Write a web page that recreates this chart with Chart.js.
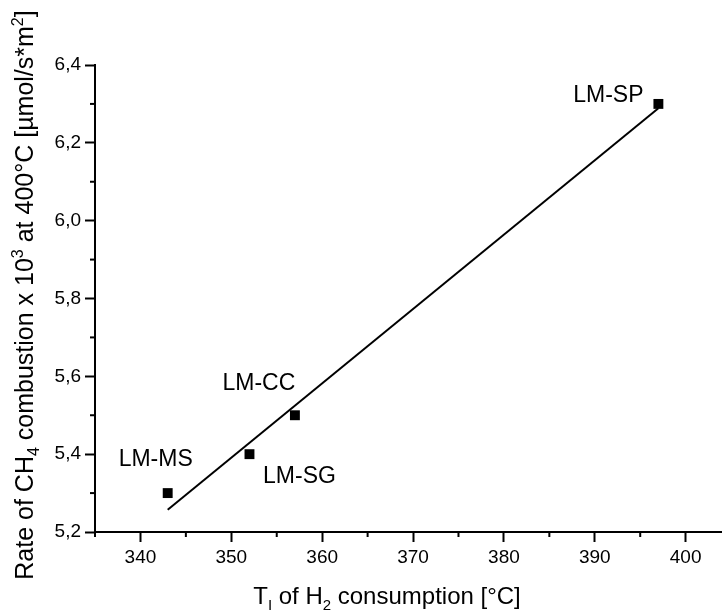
<!DOCTYPE html>
<html>
<head>
<meta charset="utf-8">
<script src="https://cdn.jsdelivr.net/npm/chart.js@4"></script>
<style>
  html, body { margin: 0; padding: 0; background: #fff; }
  #wrap { width: 722px; height: 613px; }
</style>
</head>
<body>
<div id="wrap"><canvas id="chart" width="722" height="613"></canvas></div>
<script>
// Data
const sampleNames = ['LM-MS', 'LM-SG', 'LM-CC', 'LM-SP'];
const tempValues = [343, 352, 357, 397];
const rateValues = [5.3, 5.4, 5.5, 6.3];
const fitX = [343, 397];
const fitY = [5.257, 6.289];
const xTicks = [340, 350, 360, 370, 380, 390, 400];
const yTicks = [5.2, 5.4, 5.6, 5.8, 6.0, 6.2, 6.4];

// label offsets from each point (px)
const labelOffsets = [[-12, -33], [50, 22], [-36, -32], [-50, -8]];

const FONT = '"Liberation Sans", Arial, sans-serif';

// draws minor ticks, point labels and the axis titles (with sub/superscripts)
const extras = {
  id: 'extras',
  afterDraw(chart) {
    const ctx = chart.ctx;
    const xs = chart.scales.x, ys = chart.scales.y;
    ctx.save();
    ctx.strokeStyle = '#000';
    ctx.lineWidth = 2;
    // minor ticks
    for (let v = 335; v <= 404; v += 5) {
      if (v % 10 === 0) continue;
      const px = xs.getPixelForValue(v);
      ctx.beginPath(); ctx.moveTo(px, ys.bottom); ctx.lineTo(px, ys.bottom + 5); ctx.stroke();
    }
    for (let i = 0; i < yTicks.length - 1; i++) {
      const py = ys.getPixelForValue((yTicks[i] + yTicks[i + 1]) / 2);
      ctx.beginPath(); ctx.moveTo(xs.left, py); ctx.lineTo(xs.left - 5, py); ctx.stroke();
    }

    // point labels
    ctx.fillStyle = '#000';
    ctx.font = '23px ' + FONT;
    ctx.textAlign = 'center';
    ctx.textBaseline = 'middle';
    sampleNames.forEach((name, i) => {
      const px = xs.getPixelForValue(tempValues[i]);
      const py = ys.getPixelForValue(rateValues[i]);
      ctx.fillText(name, px + labelOffsets[i][0], py + labelOffsets[i][1]);
    });

    // rich text helper: parts = [text, shift] shift 0 normal, 1 sup, -1 sub
    const drawRich = (parts, cx, cy, size) => {
      const big = size + 'px ' + FONT, small = Math.round(size * 0.62) + 'px ' + FONT;
      let total = 0;
      parts.forEach(p => { ctx.font = p[1] ? small : big; total += ctx.measureText(p[0]).width; });
      let x = cx - total / 2;
      ctx.textAlign = 'left';
      ctx.textBaseline = 'alphabetic';
      parts.forEach(p => {
        ctx.font = p[1] ? small : big;
        const dy = p[1] === 1 ? -size * 0.42 : (p[1] === -1 ? size * 0.25 : 0);
        ctx.fillText(p[0], x, cy + dy);
        x += ctx.measureText(p[0]).width;
      });
    };

    drawRich([['T', 0], ['I', -1], [' of H', 0], ['2', -1], [' consumption [\u00B0C]', 0]],
      387, 604, 24);

    ctx.translate(33, 295);
    ctx.rotate(-Math.PI / 2);
    drawRich([['Rate of CH', 0], ['4', -1], [' combustion x 10', 0], ['3', 1],
      [' at 400\u00B0C [\u00B5mol/s*m', 0], ['2', 1], [']', 0]], 0, 0, 25);
    ctx.restore();
  }
};

new Chart(document.getElementById('chart').getContext('2d'), {
  type: 'scatter',
  data: {
    datasets: [{
      label: 'samples',
      data: tempValues.map((t, i) => ({ x: t, y: rateValues[i] })),
      pointStyle: 'rect',
      pointRadius: 7,
      pointBorderWidth: 0,
      backgroundColor: '#000',
      borderColor: '#000'
    }, {
      type: 'line',
      label: 'fit',
      data: fitX.map((t, i) => ({ x: t, y: fitY[i] })),
      borderColor: '#000',
      borderWidth: 2,
      pointRadius: 0,
      fill: false
    }]
  },
  options: {
    responsive: false,
    animation: false,
    layout: { autoPadding: false, padding: { top: 65, right: 0, left: 0, bottom: 0 } },
    plugins: { legend: { display: false }, tooltip: { enabled: false } },
    scales: {
      x: {
        type: 'linear',
        min: 335,
        max: 404,
        afterBuildTicks: s => { s.ticks = xTicks.map(v => ({ value: v })); },
        afterFit: s => { s.height = 81; s.paddingLeft = 0; s.paddingRight = 0; },
        grid: { drawOnChartArea: false, drawTicks: true, tickLength: 10, tickWidth: 2, tickColor: '#000' },
        border: { color: '#000', width: 2 },
        ticks: { color: '#000', font: { size: 19, family: FONT }, padding: 4, maxRotation: 0 }
      },
      y: {
        type: 'linear',
        min: 5.2,
        max: 6.4,
        afterBuildTicks: s => { s.ticks = yTicks.map(v => ({ value: v })); },
        afterFit: s => { s.width = 95; },
        grid: { drawOnChartArea: false, drawTicks: true, tickLength: 10, tickWidth: 2, tickColor: '#000' },
        border: { color: '#000', width: 2 },
        ticks: {
          color: '#000',
          font: { size: 19, family: FONT },
          padding: 4,
          callback: v => v.toFixed(1).replace('.', ',')
        }
      }
    }
  },
  plugins: [extras]
});
</script>
</body>
</html>
